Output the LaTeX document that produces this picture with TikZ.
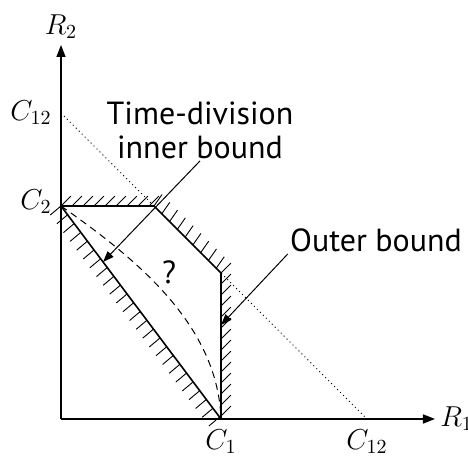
\documentclass[tikz,border=0pt]{standalone}
\usepackage{fontspec}
\newfontfamily\labelfont{PT Sans}
\usetikzlibrary{arrows.meta,decorations.markings,positioning}
\tikzset{
  axis/.style={line width=0.8pt,-{Triangle[length=6pt,width=4.5pt]}},
  bound/.style={line width=0.8pt},
  hatch/.style={postaction={decorate,decoration={markings,
    mark=between positions 0 and 1 step 5.5pt with {\pgftransformresetnontranslations
      \draw[line width=0.45pt] (0,0) -- (#1:7pt);}}}},
  pointer/.style={line width=0.5pt,-{Triangle[length=5.5pt,width=4pt]}},
  lbl/.style={font=\labelfont\fontsize{16}{17}\selectfont,align=center,inner sep=1pt},
  mlbl/.style={font=\fontsize{14}{16}\selectfont,inner sep=1pt}
}
\begin{document}
\begin{tikzpicture}[x=0.5pt,y=0.5pt]
\useasboundingbox (-61,-40) rectangle (407,419);
\coordinate (O) at (0,0);
\coordinate (yTip) at (0,374);
\coordinate (xTip) at (374,0);
\coordinate (C2) at (0,213);
\coordinate (C1) at (160,0);
\coordinate (C12y) at (0,306);
\coordinate (C12x) at (306,0);
\coordinate (Oa) at (93,213);
\coordinate (Ob) at (160,146);
\coordinate (tdTip) at (42,157);
\coordinate (obTip) at (160,94);
\draw[axis] (O) -- (yTip);
\draw[axis] (O) -- (xTip);
\node[mlbl,above=2pt of yTip] (R2) {$R_2$};
\node[mlbl,right=1.5pt of xTip] (R1) {$R_1$};
\node[mlbl,left=3.5pt of C12y] (lC12y) {$C_{12}$};
\node[mlbl,below=4pt of C12x] (lC12x) {$C_{12}$};
\node[mlbl,left=3.5pt of C2,yshift=2pt] (lC2) {$C_2$};
\node[mlbl,below=4pt of C1] (lC1) {$C_1$};
\draw[line width=0.5pt,dash pattern=on 0.5pt off 1.6pt] (C12y) -- (C12x);
\draw[bound,hatch=45] (C2) -- (Oa);
\draw[bound,hatch=55] (Oa) -- (Ob);
\draw[bound,hatch=45] (Ob) -- (C1);
\draw[bound,hatch=220] (C2) -- (C1);
\draw[line width=0.5pt,dash pattern=on 3.5pt off 2.5pt] (C2) to[out=-35,in=92,looseness=0.9] (C1);
\node[lbl] (q) at (108,147) {?};
\node[lbl] (td) at (139,289) {Time-division\\inner bound};
\node[lbl] (ob) at (315,179) {Outer bound};
\draw[pointer] (td.south) -- (tdTip);
\draw[pointer] (ob.south west) -- (obTip);
\end{tikzpicture}
\end{document}
